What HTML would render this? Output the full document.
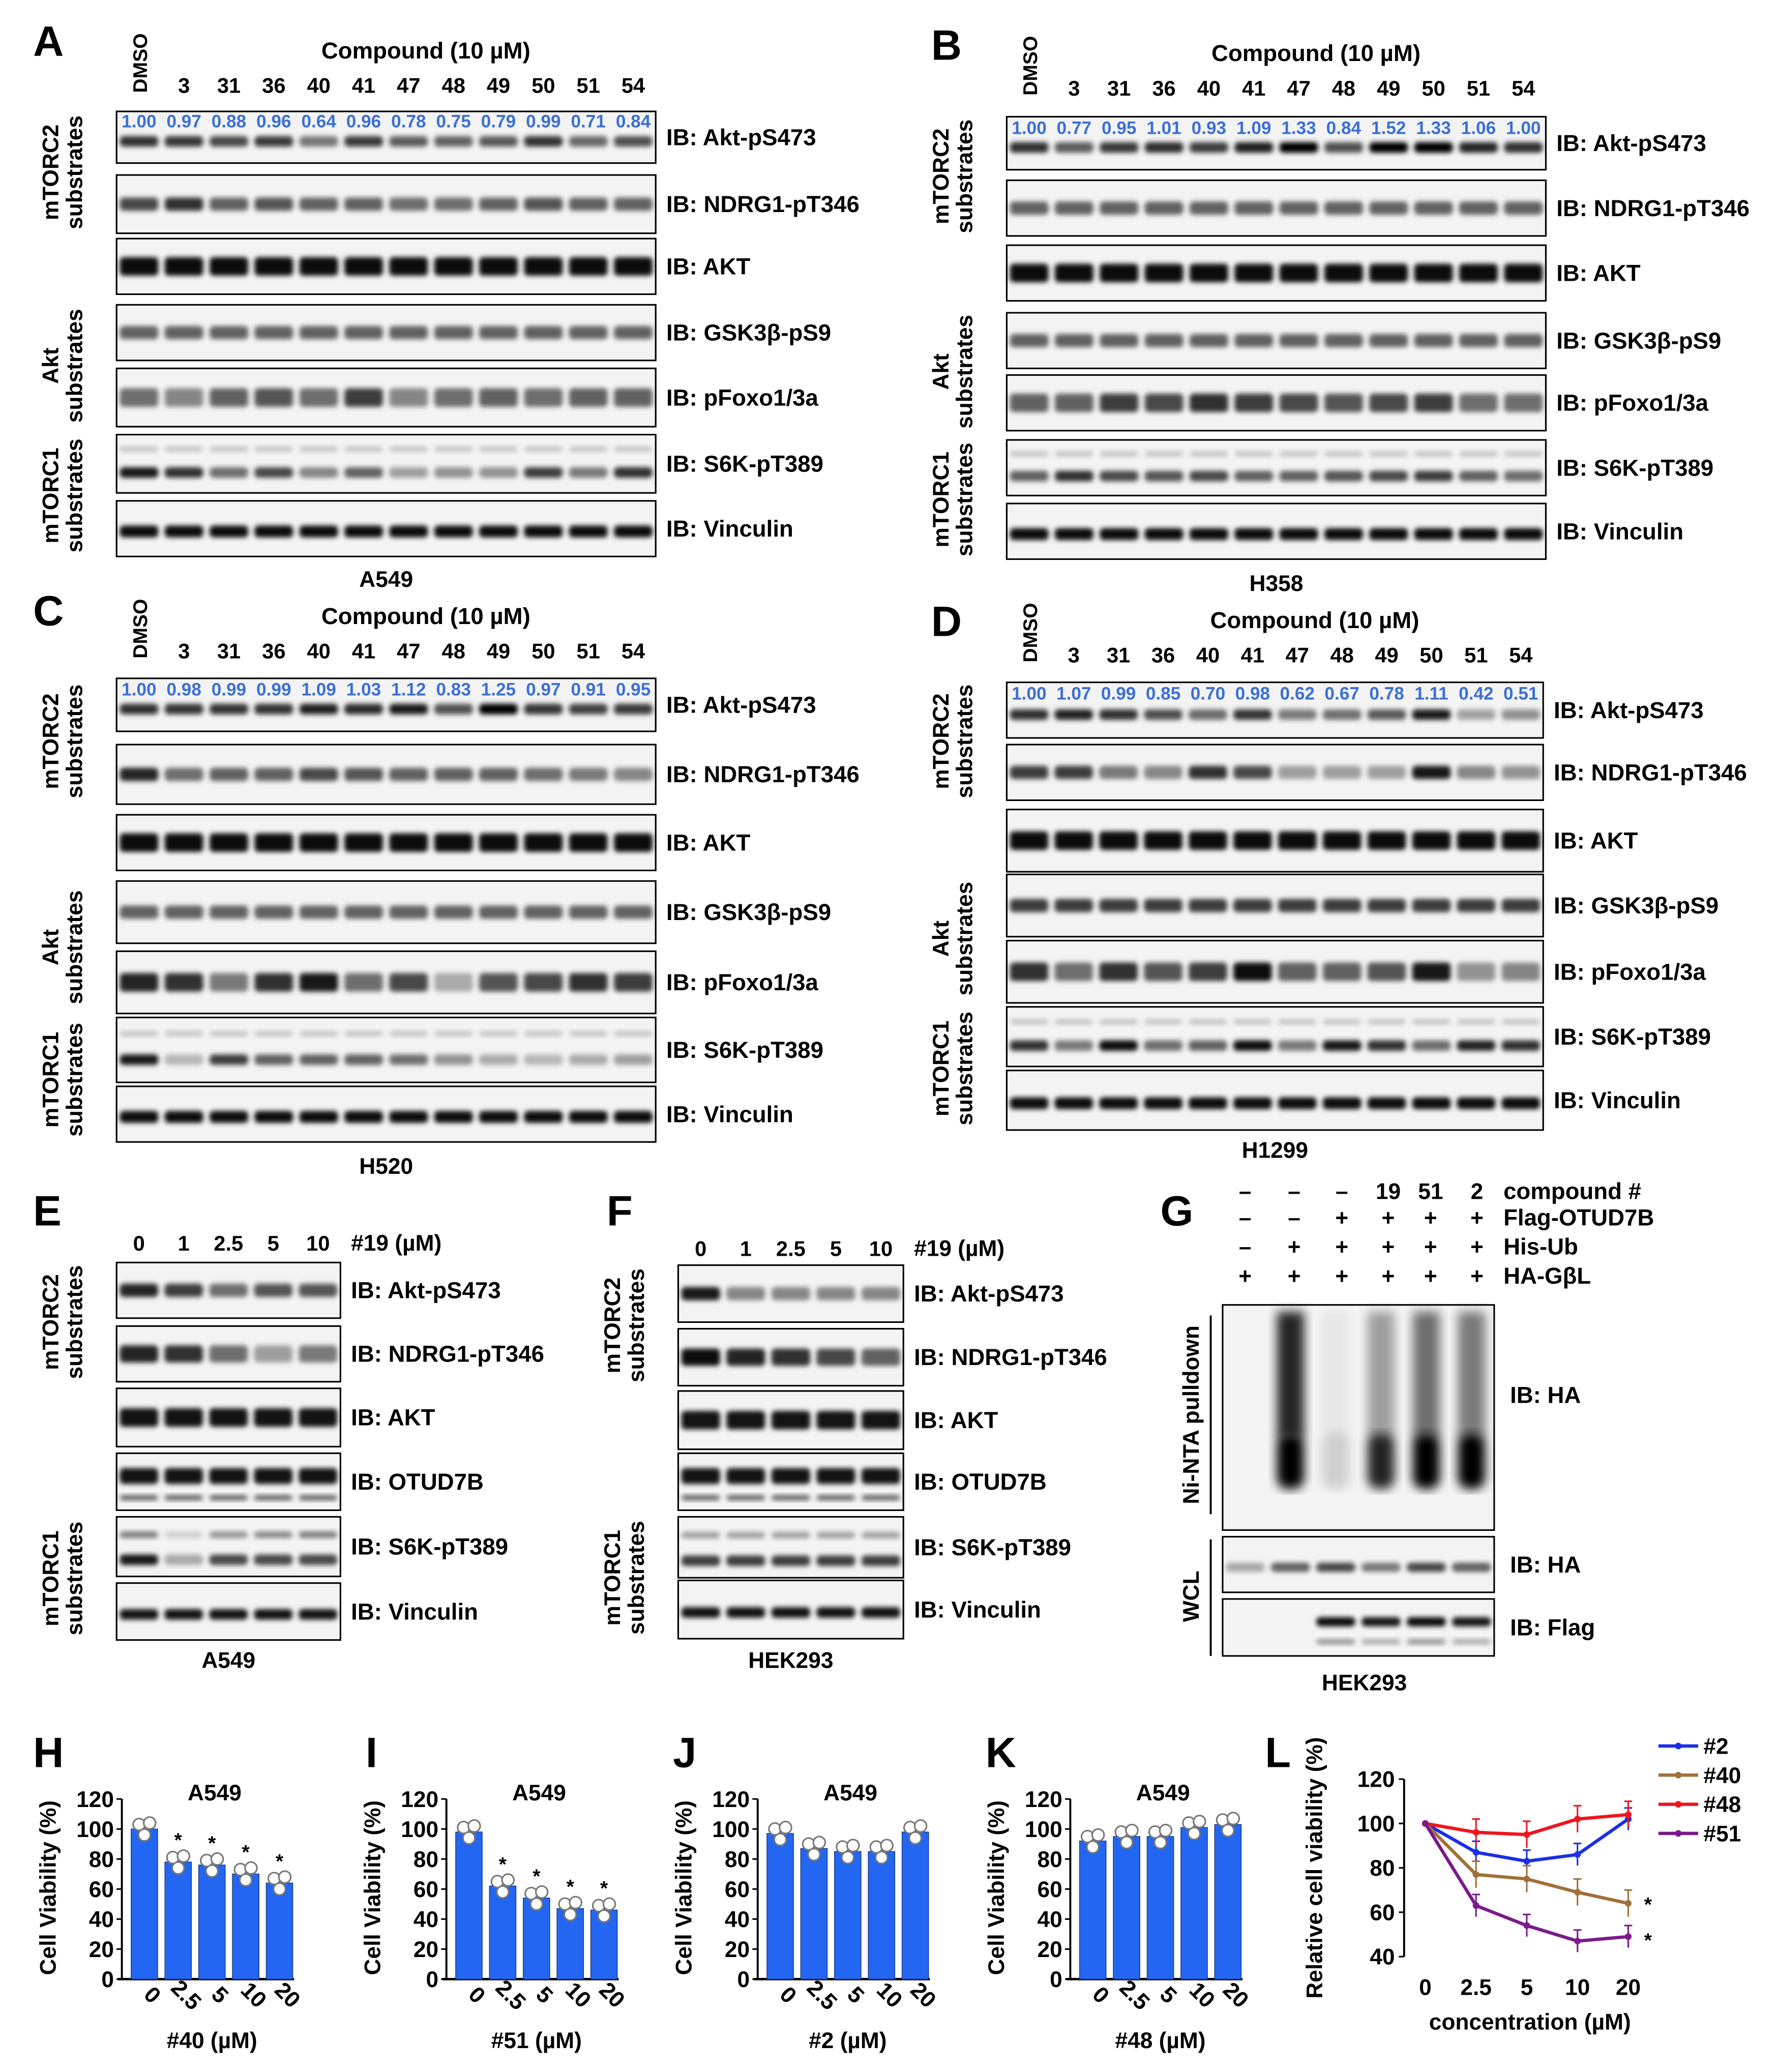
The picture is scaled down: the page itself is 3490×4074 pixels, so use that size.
<!DOCTYPE html>
<html><head><meta charset="utf-8"><style>
html,body{margin:0;padding:0;background:#fff}
svg{display:block}
text{font-family:"Liberation Sans",Arial,sans-serif;font-weight:bold;fill:#000}
</style></head><body>
<svg id="fig" xmlns="http://www.w3.org/2000/svg" width="3490" height="4074" viewBox="0 0 1340 1564">
<defs><filter id="blur" x="-20%" y="-50%" width="140%" height="200%"><feGaussianBlur stdDeviation="1.8"/></filter>
<filter id="blur2" x="-30%" y="-10%" width="160%" height="120%"><feGaussianBlur stdDeviation="4"/></filter></defs>
</svg>
<script>
// ---------- data ----------
const compoundLanes = ["DMSO","3","31","36","40","41","47","48","49","50","51","54"];
const quantA = [1.00,0.97,0.88,0.96,0.64,0.96,0.78,0.75,0.79,0.99,0.71,0.84];
const quantB = [1.00,0.77,0.95,1.01,0.93,1.09,1.33,0.84,1.52,1.33,1.06,1.00];
const quantC = [1.00,0.98,0.99,0.99,1.09,1.03,1.12,0.83,1.25,0.97,0.91,0.95];
const quantD = [1.00,1.07,0.99,0.85,0.70,0.98,0.62,0.67,0.78,1.11,0.42,0.51];
const doseLanes = ["0","1","2.5","5","10"];
const barCats = ["0","2.5","5","10","20"];
const viabH = [100,78,76,70,64];
const viabI = [98,62,54,47,46];
const viabJ = [97,87,85,85,98];
const viabK = [92,95,95,101,103];
const yTicksBar = [0,20,40,60,80,100,120];
const lineX = ["0","2.5","5","10","20"];
const line2 = [100,87,83,86,102];
const line40 = [100,77,75,69,64];
const line48 = [100,96,95,102,104];
const line51 = [100,63,54,47,49];
const yTicksLine = [40,60,80,100,120];

const svg = document.getElementById('fig');
const NS = "http://www.w3.org/2000/svg";
function mk(tag, attrs, name, parent){
  const el = document.createElementNS(NS, tag);
  for (const k in attrs) el.setAttribute(k, attrs[k]);
  
  
  (parent||svg).appendChild(el);
  return el;
}
function txt(x,y,s,size,name,opt){
  opt=opt||{};
  const a={x:x,y:y,'font-size':size,'text-anchor':opt.anchor||'middle'};
  if(opt.rot!==undefined) a.transform='rotate('+opt.rot+' '+x+' '+y+')';
  if(opt.fill) a.fill=opt.fill, a.style='fill:'+opt.fill;
  const t=mk('text',a,name,opt.parent); t.textContent=s; return t;
}
function blot(x0,y0,x1,y1,n,bands,name,label,labX){
  const g=mk('g',{},name);
  mk('rect',{x:x0,y:y0,width:x1-x0,height:y1-y0,fill:'#f3f3f3',stroke:'#000','stroke-width':1.2},name+'-box',g);
  const lw=(x1-x0)/n;
  bands.forEach((b)=>{
    for(let i=0;i<n;i++){
      const v=Array.isArray(b[2])?b[2][i]:b[2];
      const wf=b[3]||0.86;
      const cy=y0+(y1-y0)*b[0];
      mk('rect',{x:x0+lw*i+lw*(1-wf)/2,y:cy-b[1]/2,width:lw*wf,height:b[1],rx:3,fill:'#000','fill-opacity':Math.max(0,Math.min(1,v)),filter:'url(#blur)'},name+'-band',g);
    }
  });
  if(label) txt(labX!==undefined?labX:x1+8,(y0+y1)/2+6,label,17.5,name+'-label',{anchor:'start'});
}
function sideLabel(x,yc,l1,l2,name){
  txt(x,yc,l1,17,name,{rot:-90});
  if(l2) txt(x+18,yc,l2,17,name+'-2',{rot:-90});
}
function scaleQ(q,base){return q.map(v=>base*Math.min(1.3,v));}

// ---------- panels A-D ----------
function bigPanel(P){
  const n=12, lw=(P.x1-P.x0)/n;
  txt(P.letX,P.letY,P.letter,32,'panel-label-'+P.letter.toLowerCase(),{anchor:'start'});
  txt(P.x0+lw*0.5+6,P.numY,'DMSO',15,'lane-dmso-'+P.letter.toLowerCase(),{rot:-90,anchor:'start'});
  for(let i=1;i<n;i++) txt(P.x0+lw*(i+0.5),P.numY,compoundLanes[i],16,'lane-label');
  txt((P.x0+P.x1)/2+30,P.numY-26,'Compound (10 µM)',17.5,'compound-header');
  const B=P.boxes, x0=P.x0, x1=P.x1;
  blot(x0,B[0][0],x1,B[0][1],n,[[0.58,8,scaleQ(P.quant,0.8)]],'blot-akt-ps473','IB: Akt-pS473');
  blot(x0,B[1][0],x1,B[1][1],n,[[0.5,10,P.ndrg]],'blot-ndrg1-pt346','IB: NDRG1-pT346');
  blot(x0,B[2][0],x1,B[2][1],n,[[0.5,14,0.95]],'blot-akt','IB: AKT');
  blot(x0,B[3][0],x1,B[3][1],n,[[0.5,10,P.gsk]],'blot-gsk3b-ps9','IB: GSK3β-pS9');
  blot(x0,B[4][0],x1,B[4][1],n,[[0.5,14,P.foxo]],'blot-pfoxo1-3a','IB: pFoxo1/3a');
  blot(x0,B[5][0],x1,B[5][1],n,[[0.25,4,0.2],[0.65,8,P.s6k]],'blot-s6k-pt389','IB: S6K-pT389');
  blot(x0,B[6][0],x1,B[6][1],n,[[0.55,9,0.95]],'blot-vinculin','IB: Vinculin');
  for(let i=0;i<n;i++) txt(P.x0+lw*(i+0.5),P.qY,P.quant[i].toFixed(2),13.5,'quant-value',{fill:'#3b6fd4'});
  txt((x0+x1)/2,P.cellY,P.cell,17,'cell-line-label');
  const sx=P.x0-44;
  sideLabel(sx,(B[0][0]+B[1][1])/2,'mTORC2','substrates','side-label-mtorc2');
  sideLabel(sx,(B[3][0]+B[4][1])/2,'Akt','substrates','side-label-akt');
  sideLabel(sx,(B[5][0]+B[6][1])/2,'mTORC1','substrates','side-label-mtorc1');
}
bigPanel({letter:'A',letX:25,letY:42,x0:88,x1:495,numY:70,qY:96,quant:quantA,
 boxes:[[84,123],[132,176],[180,222],[230,272],[278,322],[328,372],[378,420]],
 ndrg:[0.7,0.8,0.6,0.65,0.6,0.6,0.55,0.55,0.6,0.65,0.6,0.6],gsk:0.6,
 foxo:[0.55,0.45,0.6,0.65,0.55,0.75,0.45,0.55,0.6,0.55,0.6,0.6],
 s6k:[0.9,0.8,0.55,0.7,0.45,0.6,0.35,0.4,0.4,0.75,0.5,0.8],cell:'A549',cellY:443});
bigPanel({letter:'B',letX:703,letY:45,x0:760,x1:1167,numY:72,qY:101,quant:quantB,
 boxes:[[88,128],[136,178],[185,227],[236,278],[283,325],[332,374],[380,422]],
 ndrg:0.6,gsk:0.6,foxo:[0.6,0.6,0.75,0.7,0.8,0.75,0.7,0.65,0.7,0.75,0.55,0.55],
 s6k:[0.6,0.8,0.7,0.65,0.7,0.6,0.6,0.65,0.7,0.75,0.6,0.55],cell:'H358',cellY:446});
bigPanel({letter:'C',letX:25,letY:472,x0:88,x1:495,numY:497,qY:525,quant:quantC,
 boxes:[[512,552],[562,607],[615,657],[665,712],[718,765],[768,817],[820,862]],
 ndrg:[0.85,0.55,0.6,0.6,0.7,0.65,0.6,0.6,0.6,0.55,0.5,0.45],gsk:0.6,
 foxo:[0.85,0.8,0.5,0.8,0.9,0.55,0.7,0.3,0.65,0.7,0.8,0.75],
 s6k:[0.9,0.25,0.75,0.6,0.6,0.6,0.55,0.4,0.3,0.25,0.3,0.35],cell:'H520',cellY:886});
bigPanel({letter:'D',letX:703,letY:480,x0:760,x1:1165,numY:500,qY:528,quant:quantD,
 boxes:[[515,557],[562,604],[611,658],[660,707],[710,757],[760,805],[808,853]],
 ndrg:[0.75,0.75,0.5,0.45,0.8,0.7,0.35,0.35,0.35,0.9,0.45,0.4],gsk:0.75,
 foxo:[0.8,0.55,0.8,0.65,0.75,0.95,0.6,0.6,0.65,0.9,0.4,0.45],
 s6k:[0.8,0.5,0.95,0.55,0.6,0.95,0.5,0.9,0.8,0.55,0.85,0.8],cell:'H1299',cellY:874});

// ---------- panels E, F ----------
function smallPanel(P){
  const n=5, lw=(P.x1-P.x0)/n;
  txt(P.letX,P.letY,P.letter,32,'panel-label-'+P.letter.toLowerCase(),{anchor:'start'});
  for(let i=0;i<n;i++) txt(P.x0+lw*(i+0.5),P.numY,doseLanes[i],16,'dose-lane-label');
  txt(P.x1+8,P.numY,'#19 (µM)',17,'dose-header',{anchor:'start'});
  const B=P.boxes,x0=P.x0,x1=P.x1;
  blot(x0,B[0][0],x1,B[0][1],n,[[0.5,10,P.akt]],'blot-akt-ps473','IB: Akt-pS473');
  blot(x0,B[1][0],x1,B[1][1],n,[[0.5,13,P.ndrg]],'blot-ndrg1-pt346','IB: NDRG1-pT346');
  blot(x0,B[2][0],x1,B[2][1],n,[[0.5,14,0.92]],'blot-akt','IB: AKT');
  blot(x0,B[3][0],x1,B[3][1],n,[[0.4,12,0.92],[0.78,4,0.6]],'blot-otud7b','IB: OTUD7B');
  blot(x0,B[4][0],x1,B[4][1],n,[[0.3,5,P.s6ka],[0.72,8,P.s6k]],'blot-s6k-pt389','IB: S6K-pT389');
  blot(x0,B[5][0],x1,B[5][1],n,[[0.55,8,0.92]],'blot-vinculin','IB: Vinculin');
  txt((x0+x1)/2,P.cellY,P.cell,17,'cell-line-label');
  const sx=P.x0-44;
  sideLabel(sx,(B[0][0]+B[1][1])/2,'mTORC2','substrates','side-label-mtorc2');
  sideLabel(sx,(B[4][0]+B[5][1])/2,'mTORC1','substrates','side-label-mtorc1');
}
smallPanel({letter:'E',letX:25,letY:925,x0:88,x1:257,numY:944,
 boxes:[[953,995],[1001,1043],[1048,1092],[1097,1140],[1145,1190],[1195,1238]],
 akt:[0.85,0.75,0.55,0.65,0.65],ndrg:[0.85,0.8,0.55,0.35,0.5],s6ka:[0.5,0.15,0.4,0.45,0.5],s6k:[0.9,0.3,0.7,0.7,0.7],cell:'A549',cellY:1259});
smallPanel({letter:'F',letX:458,letY:925,x0:512,x1:682,numY:948,
 boxes:[[955,998],[1003,1046],[1050,1094],[1097,1140],[1145,1191],[1193,1237]],
 akt:[0.9,0.45,0.45,0.45,0.45],ndrg:[0.95,0.85,0.8,0.7,0.6],s6ka:0.35,s6k:0.75,cell:'HEK293',cellY:1259});

// ---------- panel G ----------
(function(){
  txt(876,925,'G',32,'panel-label-g',{anchor:'start'});
  const colX=[940,977,1013,1048,1080,1115];
  const rows=[['–','–','–','19','51','2'],['–','–','+','+','+','+'],['–','+','+','+','+','+'],['+','+','+','+','+','+']];
  const rowLab=['compound #','Flag-OTUD7B','His-Ub','HA-GβL'];
  const rowY=[905,925,947,969];
  rows.forEach((r,ri)=>{
    r.forEach((s,ci)=>txt(colX[ci],rowY[ri],s,17,'treatment-mark'));
    txt(1135,rowY[ri],rowLab[ri],17.5,'treatment-label',{anchor:'start'});
  });
  const x0=923,x1=1128, lw=(x1-x0)/6;
  const g=mk('g',{},'blot-ni-nta-ha');
  mk('rect',{x:x0,y:985,width:x1-x0,height:170,fill:'#f3f3f3',stroke:'#000','stroke-width':1.2},'blot-box',g);
  const smear=[0,0.85,0.05,0.35,0.55,0.5], low=[0,1,0.15,0.85,1,1];
  for(let i=0;i<6;i++){
    mk('rect',{x:x0+lw*(i+0.2),y:990,width:lw*0.6,height:95,fill:'#000','fill-opacity':smear[i],filter:'url(#blur2)'},'smear',g);
    mk('rect',{x:x0+lw*(i+0.2),y:1082,width:lw*0.6,height:42,rx:8,fill:'#000','fill-opacity':low[i],filter:'url(#blur2)'},'ub-band',g);
  }
  txt(1140,1059,'IB: HA',17.5,'blot-label',{anchor:'start'});
  blot(x0,1160,x1,1202,6,[[0.55,7,[0.3,0.6,0.7,0.5,0.7,0.6]]],'blot-wcl-ha','IB: HA',1140);
  blot(x0,1207,x1,1250,6,[[0.4,7,[0,0,0.95,0.9,0.95,0.9]],[0.75,4,[0,0,0.4,0.3,0.4,0.3]]],'blot-wcl-flag','IB: Flag',1140);
  txt(905,1068,'Ni-NTA pulldown',17,'side-label-pulldown',{rot:-90});
  mk('line',{x1:914,y1:993,x2:914,y2:1143,stroke:'#000','stroke-width':1.5},'bracket');
  txt(905,1205,'WCL',17,'side-label-wcl',{rot:-90});
  mk('line',{x1:914,y1:1162,x2:914,y2:1250,stroke:'#000','stroke-width':1.5},'bracket');
  txt(1030,1276,'HEK293',17,'cell-line-label');
})();

// ---------- bar charts H-K ----------
function barChart(P){
  const y0=1494, ppu=(1494-1358)/120;
  const ys=v=>y0-v*ppu;
  txt(P.letX,1334,P.letter,32,'panel-label-'+P.letter.toLowerCase(),{anchor:'start'});
  txt(P.ax+70,1359,'A549',17,'chart-title');
  txt(P.ax-50,1425,'Cell Viability (%)',17,'y-axis-title',{rot:-90});
  mk('line',{x1:P.ax,y1:ys(120),x2:P.ax,y2:y0,stroke:'#000','stroke-width':1.5},'y-axis');
  mk('line',{x1:P.ax-3,y1:y0,x2:P.ax+130,y2:y0,stroke:'#000','stroke-width':1.8},'x-axis');
  yTicksBar.forEach(t=>{
    mk('line',{x1:P.ax-4,y1:ys(t),x2:P.ax,y2:ys(t),stroke:'#000','stroke-width':1.2},'y-tick');
    txt(P.ax-6,ys(t)+6,String(t),17,'y-tick-label',{anchor:'end'});
  });
  P.vals.forEach((v,i)=>{
    const cx=P.ax+17+i*25.5;
    mk('rect',{x:cx-10,y:ys(v),width:20,height:y0-ys(v),fill:'#2366f2',stroke:'#1a3d8f','stroke-width':0.6},'bar-'+barCats[i],null);
    mk('line',{x1:cx,y1:ys(v),x2:cx,y2:ys(v+4),stroke:'#333','stroke-width':1},'error-bar');
    [[-4,3],[4,4],[0,-4]].forEach(o=>mk('circle',{cx:cx+o[0],cy:ys(v+o[1]),r:4.5,fill:'#fff',stroke:'#777','stroke-width':1.2},'data-point'));
    if(P.star && i>0) txt(cx,ys(v+10),'*',15,'significance-star');
    txt(cx+2,1510,barCats[i],17,'x-tick-label',{rot:45,anchor:'middle'});
  });
  txt(P.ax+68,1546,P.xlab,17,'x-axis-title');
}
barChart({letter:'H',letX:25,ax:92,vals:viabH,star:true,xlab:'#40 (µM)'});
barChart({letter:'I',letX:276,ax:337,vals:viabI,star:true,xlab:'#51 (µM)'});
barChart({letter:'J',letX:508,ax:572,vals:viabJ,star:false,xlab:'#2 (µM)'});
barChart({letter:'K',letX:744,ax:808,vals:viabK,star:false,xlab:'#48 (µM)'});

// ---------- line chart L ----------
(function(){
  const ax=1060, y0=1477, ppu=(1477-1343)/80;
  const ys=v=>y0-(v-40)*ppu;
  const xs=i=>1076+i*38.3;
  txt(955,1334,'L',32,'panel-label-l',{anchor:'start'});
  txt(998,1410,'Relative cell viability (%)',17,'y-axis-title',{rot:-90});
  mk('line',{x1:ax,y1:ys(120),x2:ax,y2:y0,stroke:'#000','stroke-width':1.5},'y-axis');
  yTicksLine.forEach(t=>{
    mk('line',{x1:ax-4,y1:ys(t),x2:ax,y2:ys(t),stroke:'#000','stroke-width':1.2},'y-tick');
    txt(ax-7,ys(t)+6,String(t),17,'y-tick-label',{anchor:'end'});
  });
  lineX.forEach((s,i)=>txt(xs(i),1506,s,17,'x-tick-label'));
  txt(1155,1532,'concentration (µM)',17,'x-axis-title');
  const series=[[line2,'#1a2fe8','#2','line-2',5],[line40,'#a0703a','#40','line-40',6],[line48,'#f0141e','#48','line-48',6],[line51,'#7a1a8a','#51','line-51',5]];
  series.forEach((s,si)=>{
    const pts=s[0].map((v,i)=>xs(i)+','+ys(v)).join(' ');
    s[0].forEach((v,i)=>{ if(i>0){ mk('line',{x1:xs(i),y1:ys(v-s[4]),x2:xs(i),y2:ys(v+s[4]),stroke:s[1],'stroke-width':1.2},'error-bar');
      mk('line',{x1:xs(i)-3,y1:ys(v+s[4]),x2:xs(i)+3,y2:ys(v+s[4]),stroke:s[1],'stroke-width':1.2},'error-cap'); } });
    mk('polyline',{points:pts,fill:'none',stroke:s[1],'stroke-width':2.5},'series-'+s[3]);
    s[0].forEach((v,i)=>mk('circle',{cx:xs(i),cy:ys(v),r:2.5,fill:s[1]},'point-'+s[3]));
    const ly=1318+si*22;
    mk('line',{x1:1252,y1:ly,x2:1282,y2:ly,stroke:s[1],'stroke-width':2.5},'legend-swatch');
    mk('circle',{cx:1267,cy:ly,r:2.5,fill:s[1]},'legend-marker');
    txt(1286,ly+6,s[2],17,'legend-entry',{anchor:'start'});
  });
  txt(xs(4)+12,ys(64)+6,'*',15,'significance-star',{anchor:'start'});
  txt(xs(4)+12,ys(49)+8,'*',15,'significance-star',{anchor:'start'});
})();
</script>
</body></html>
